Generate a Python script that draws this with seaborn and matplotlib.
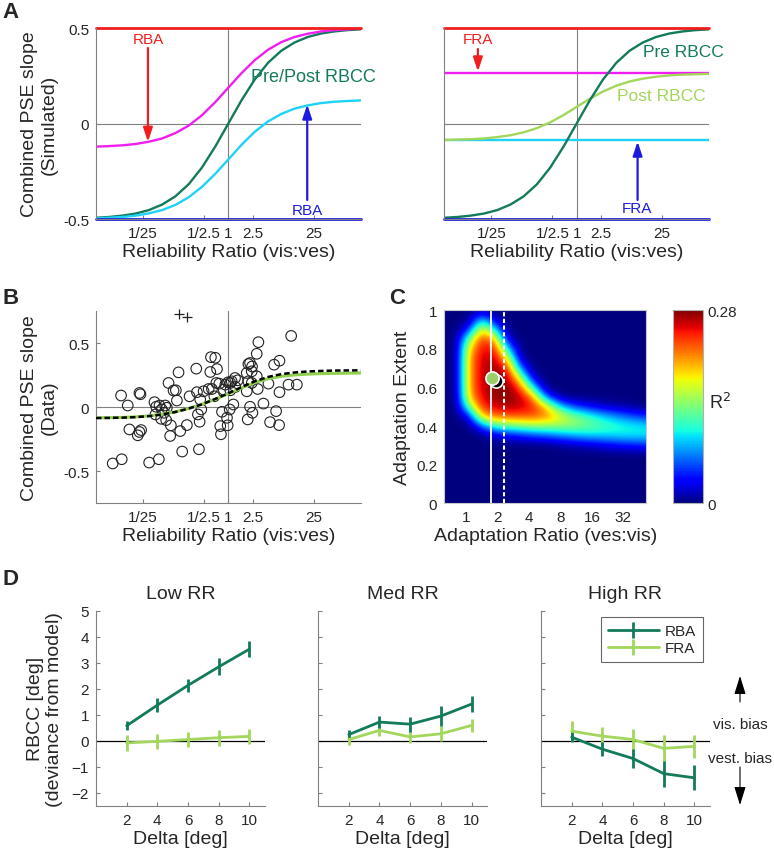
import numpy as np
import matplotlib; matplotlib.use('agg')
import matplotlib.pyplot as plt
import seaborn as sns


sns.set_theme(style='white')
plt.rcParams['font.family'] = ['Liberation Sans', 'DejaVu Sans']

RED = '#f01e1e'
MAGENTA = '#f01ef0'
CYAN = '#1ed2f8'
BLUE = '#1c1cdc'
DKGREEN = '#137a5c'
LTGREEN = '#a3d65c'
GRAY = '#808080'

# ---- A: simulated curves (ln of reliability ratio) ----
ln_rr = [-5.0, -4.5, -4.0, -3.5, -3.0, -2.5, -2.0, -1.5, -1.0, -0.5, 0.0,
         0.5, 1.0, 1.5, 2.0, 2.5, 3.0, 3.5, 4.0, 4.5, 5.0]
pre_rbcc = [-0.493, -0.489, -0.482, -0.471, -0.453, -0.424, -0.381, -0.318, -0.231, -0.122, 0.0,
            0.122, 0.231, 0.318, 0.381, 0.424, 0.453, 0.471, 0.482, 0.489, 0.493]
rba_vis = [-0.121, -0.118, -0.114, -0.107, -0.095, -0.078, -0.050, -0.011, 0.043, 0.111, 0.188,
           0.264, 0.332, 0.386, 0.426, 0.453, 0.470, 0.482, 0.489, 0.493, 0.496]
rba_ves = [-0.496, -0.493, -0.489, -0.482, -0.470, -0.453, -0.426, -0.386, -0.332, -0.264, -0.188,
           -0.111, -0.043, 0.011, 0.050, 0.078, 0.095, 0.107, 0.114, 0.118, 0.121]
fra_post = [-0.086, -0.084, -0.082, -0.078, -0.071, -0.061, -0.046, -0.024, 0.006, 0.044, 0.087,
            0.130, 0.168, 0.198, 0.220, 0.235, 0.245, 0.252, 0.256, 0.258, 0.260]
fra_vis_level = 0.265
fra_ves_level = -0.088

# ---- B: data ----
b_fit_green = [-0.083, -0.082, -0.080, -0.076, -0.068, -0.055, -0.036, -0.010, 0.022, 0.062, 0.104,
               0.150, 0.192, 0.222, 0.241, 0.252, 0.258, 0.262, 0.264, 0.266, 0.267]
b_fit_black = [-0.085, -0.084, -0.082, -0.078, -0.070, -0.057, -0.038, -0.011, 0.022, 0.064, 0.108,
               0.157, 0.202, 0.236, 0.258, 0.271, 0.279, 0.283, 0.286, 0.287, 0.288]
b_log10_rr = [-1.897, -1.749, -1.760, -1.650, -1.623, -1.458, -1.442, -1.486, -1.431, -1.458,
              -1.299, -1.140, -1.212, -1.184, -1.129, -1.195, -1.091, -1.036, -1.053, -1.009,
              -1.102, -1.020, -0.981, -0.954, -0.943, -0.899, -0.861, -0.817, -0.844, -0.789,
              -0.757, -0.680, -0.636, -0.526, -0.515, -0.482, -0.471, -0.499, -0.461, -0.444,
              -0.406, -0.323, -0.296, -0.285, -0.214, -0.186, -0.269, -0.230, -0.197, -0.121,
              -0.104, -0.077, -0.049, -0.022, -0.011, -0.005, 0.033, 0.022, -0.132, -0.148,
              0.033, 0.082, 0.110, 0.055, 0.154, 0.115, 0.302, 0.329, 0.356, 0.384,
              0.466, 0.329, 0.384, 0.302, 0.318, 0.356, 0.395, 0.466, 0.493, 0.482,
              0.576, 0.658, 0.685, 0.751, 0.839, 0.784, 0.833, 0.839, 0.987, 1.124,
              1.031, 0.389]
b_slope = [-0.440, -0.407, 0.091, 0.013, -0.174, 0.111, 0.101, -0.220, -0.179, -0.194,
           -0.433, -0.407, 0.039, 0.003, 0.013, -0.057, -0.018, 0.013, -0.044, -0.005,
           -0.091, -0.101, 0.189, -0.225, -0.142, 0.130, 0.132, 0.272, 0.052, -0.187,
           -0.347, -0.140, 0.085, 0.301, 0.117, -0.329, -0.114, -0.057, 0.060, -0.018,
           0.124, 0.142, 0.275, 0.391, 0.386, 0.298, 0.142, 0.085, 0.189, -0.212,
           -0.036, 0.137, 0.176, -0.083, -0.142, 0.194, 0.189, -0.018, -0.148, 0.184,
           0.132, 0.021, 0.228, 0.202, 0.210, 0.158, 0.267, 0.337, 0.345, 0.280,
           0.241, 0.202, 0.189, 0.124, -0.096, 0.003, -0.044, 0.417, 0.508, 0.142,
           0.028, 0.184, -0.117, 0.332, 0.363, -0.031, -0.140, 0.117, 0.176, 0.176,
           0.557, 0.318]
b_out_log10_rr = [-0.817, -0.680]
b_out_slope = [0.728, 0.702]

# ---- C: R^2 map (rows from extent 1.0 down to 0.0, columns log2 ratio) ----
c_log2_ratio = [-0.7, -0.3, 0.1, 0.5, 0.9, 1.3, 1.7, 2.1, 2.5, 2.9, 3.3, 3.7, 4.1, 4.5, 4.9, 5.3, 5.7]
c_extent = [1.0, 0.95, 0.9, 0.85, 0.8, 0.75, 0.7, 0.65, 0.6, 0.55, 0.5,
            0.45, 0.4, 0.35, 0.3, 0.25, 0.2, 0.15, 0.1, 0.05, 0.0]
c_r2 = [
    [0, 0, 0.00, 0.010, 0.000, 0.000, 0.000, 0, 0, 0, 0, 0, 0, 0, 0, 0, 0],
    [0, 0, 0.00, 0.100, 0.020, 0.000, 0.000, 0, 0, 0, 0, 0, 0, 0, 0, 0, 0],
    [0, 0, 0.04, 0.200, 0.100, 0.000, 0.000, 0, 0, 0, 0, 0, 0, 0, 0, 0, 0],
    [0, 0, 0.14, 0.245, 0.210, 0.020, 0.000, 0, 0, 0, 0, 0, 0, 0, 0, 0, 0],
    [0, 0, 0.19, 0.255, 0.250, 0.100, 0.000, 0, 0, 0, 0, 0, 0, 0, 0, 0, 0],
    [0, 0, 0.21, 0.260, 0.265, 0.190, 0.010, 0, 0, 0, 0, 0, 0, 0, 0, 0, 0],
    [0, 0, 0.21, 0.262, 0.275, 0.250, 0.070, 0.00, 0, 0, 0, 0, 0, 0, 0, 0, 0],
    [0, 0, 0.21, 0.262, 0.278, 0.272, 0.170, 0.02, 0, 0, 0, 0, 0, 0, 0, 0, 0],
    [0, 0, 0.21, 0.260, 0.278, 0.280, 0.240, 0.11, 0.00, 0, 0, 0, 0, 0, 0, 0, 0],
    [0, 0, 0.20, 0.255, 0.272, 0.280, 0.265, 0.22, 0.07, 0.01, 0, 0, 0, 0, 0, 0, 0],
    [0, 0, 0.14, 0.245, 0.258, 0.268, 0.262, 0.25, 0.20, 0.11, 0.06, 0.04, 0.025, 0.015, 0.01, 0.005, 0.0],
    [0, 0, 0.03, 0.200, 0.220, 0.230, 0.230, 0.23, 0.22, 0.19, 0.15, 0.13, 0.105, 0.085, 0.07, 0.055, 0.045],
    [0, 0, 0.00, 0.060, 0.120, 0.130, 0.140, 0.15, 0.15, 0.15, 0.15, 0.14, 0.13, 0.12, 0.11, 0.105, 0.10],
    [0, 0, 0.00, 0.000, 0.020, 0.030, 0.040, 0.05, 0.06, 0.07, 0.08, 0.09, 0.095, 0.095, 0.10, 0.10, 0.10],
    [0, 0, 0.00, 0.000, 0.000, 0.000, 0.000, 0.00, 0.00, 0.005, 0.01, 0.015, 0.02, 0.03, 0.035, 0.04, 0.045],
    [0] * 17, [0] * 17, [0] * 17, [0] * 17, [0] * 17, [0] * 17,
]
c_r2_max = 0.28
c_solid_log2 = 0.80
c_dashed_log2 = 1.21
c_best_green = (0.82, 0.647)
c_best_black = (0.955, 0.634)
c_ticks = [1, 2, 4, 8, 16, 32]

# ---- D: deviance from model ----
delta = [2, 4, 6, 8, 10]
low_rba = [0.58, 1.37, 2.13, 2.84, 3.52]
low_rba_err = [0.17, 0.26, 0.26, 0.33, 0.32]
low_fra = [-0.08, -0.02, 0.05, 0.12, 0.17]
low_fra_err = [0.30, 0.30, 0.27, 0.30, 0.30]
med_rba = [0.24, 0.72, 0.64, 0.95, 1.41]
med_rba_err = [0.17, 0.22, 0.29, 0.37, 0.31]
med_fra = [0.05, 0.40, 0.15, 0.27, 0.59]
med_fra_err = [0.20, 0.20, 0.22, 0.29, 0.25]
high_rba = [0.14, -0.32, -0.68, -1.26, -1.42]
high_rba_err = [0.20, 0.26, 0.36, 0.50, 0.48]
high_fra = [0.37, 0.18, 0.05, -0.29, -0.21]
high_fra_err = [0.38, 0.35, 0.42, 0.51, 0.44]

rr_ticks = [1 / 25, 1 / 2.5, 1, 2.5, 25]
rr_ticklabels = ['1/25', '1/2.5', '1', '2.5', '25']


def style_axis(ax):
    sns.despine(ax=ax)
    for s in ['left', 'bottom']:
        ax.spines[s].set_color(GRAY)
        ax.spines[s].set_linewidth(0.8)
    ax.tick_params(direction='in', length=3, width=0.8, color=GRAY,
                   labelsize=11, pad=5, left=True, bottom=True)


def arrow(ax, x, y0, y1, color):
    ax.annotate('', xy=(x, y1), xytext=(x, y0),
                arrowprops=dict(arrowstyle='-|>,head_length=0.6,head_width=0.2',
                                color=color, lw=1.6, mutation_scale=14,
                                shrinkA=0, shrinkB=0))


def rr_axis(ax):
    ax.set_xscale('log')
    ax.set_xlim(np.exp(-5), np.exp(5))
    ax.set_xticks(rr_ticks)
    ax.set_xticklabels(rr_ticklabels)
    ax.minorticks_off()
    ax.set_xlabel('Reliability Ratio (vis:ves)', fontsize=14, labelpad=2)


fig = plt.figure(figsize=(7.74, 8.53), dpi=100)
rr = np.exp(ln_rr)

# ---------- A left ----------
ax = fig.add_axes([0.124, 0.742, 0.342, 0.224])
style_axis(ax)
rr_axis(ax)
ax.axhline(0, color=GRAY, lw=0.8)
ax.axvline(1, color=GRAY, lw=0.8)
sns.lineplot(x=rr, y=pre_rbcc, ax=ax, color=DKGREEN, lw=1.7)
sns.lineplot(x=rr, y=rba_vis, ax=ax, color=MAGENTA, lw=1.7)
sns.lineplot(x=rr, y=rba_ves, ax=ax, color=CYAN, lw=1.7)
ax.axhline(0.5, color=RED, lw=2, clip_on=False)
ax.axhline(-0.5, color=BLUE, lw=2, clip_on=False)
ax.set_ylim(-0.5, 0.5)
ax.set_yticks([-0.5, 0, 0.5])
ax.set_yticklabels(['-0.5', '0', '0.5'])
ax.set_ylabel('Combined PSE slope\n(Simulated)', fontsize=14, labelpad=4)
ax.text(0.048, 0.444, 'RBA', color=RED, fontsize=11, ha='center', va='center')
arrow(ax, 0.048, 0.395, -0.096, RED)
ax.text(25, 0.245, 'Pre/Post RBCC', color=DKGREEN, fontsize=13, ha='center', va='center')
ax.text(20, -0.453, 'RBA', color=BLUE, fontsize=11, ha='center', va='center')
arrow(ax, 19.7, -0.40, 0.10, BLUE)

# ---------- A right ----------
ax = fig.add_axes([0.574, 0.742, 0.342, 0.224])
style_axis(ax)
rr_axis(ax)
ax.axhline(0, color=GRAY, lw=0.8)
ax.axvline(1, color=GRAY, lw=0.8)
ax.axhline(fra_vis_level, color=MAGENTA, lw=1.7)
ax.axhline(fra_ves_level, color=CYAN, lw=1.7)
sns.lineplot(x=rr, y=fra_post, ax=ax, color=LTGREEN, lw=1.7)
sns.lineplot(x=rr, y=pre_rbcc, ax=ax, color=DKGREEN, lw=1.7)
ax.axhline(0.5, color=RED, lw=2, clip_on=False)
ax.axhline(-0.5, color=BLUE, lw=2, clip_on=False)
ax.set_ylim(-0.5, 0.5)
ax.set_yticks([-0.5, 0, 0.5])
ax.set_yticklabels([])
ax.text(0.024, 0.444, 'FRA', color=RED, fontsize=11, ha='center', va='center')
arrow(ax, 0.024, 0.39, 0.272, RED)
ax.text(56, 0.376, 'Pre RBCC', color=DKGREEN, fontsize=12.5, ha='center', va='center')
ax.text(24.5, 0.145, 'Post RBCC', color=LTGREEN, fontsize=12.5, ha='center', va='center')
ax.text(9.8, -0.442, 'FRA', color=BLUE, fontsize=11, ha='center', va='center')
arrow(ax, 10, -0.40, -0.094, BLUE)

# ---------- B ----------
ax = fig.add_axes([0.124, 0.409, 0.342, 0.225])
style_axis(ax)
rr_axis(ax)
ax.axhline(0, color=GRAY, lw=0.8)
ax.axvline(1, color=GRAY, lw=0.8)
ax.scatter(np.power(10.0, b_log10_rr), b_slope, s=58, marker='o',
           facecolors='none', edgecolors='#222222', linewidths=0.8, zorder=3)
ax.scatter(np.power(10.0, b_out_log10_rr), b_out_slope, s=45, marker='+',
           color='#222222', linewidths=0.9, zorder=3, clip_on=False)
sns.lineplot(x=rr, y=b_fit_green, ax=ax, color='#92d050', lw=2.2, zorder=4)
sns.lineplot(x=rr, y=b_fit_black, ax=ax, color='black', lw=1.8,
             dashes=False, zorder=5).lines[-1].set_dashes([2.2, 1.2])
ax.set_ylim(-0.75, 0.75)
ax.set_yticks([-0.5, 0, 0.5])
ax.set_yticklabels(['-0.5', '0', '0.5'])
ax.set_ylabel('Combined PSE slope\n(Data)', fontsize=14, labelpad=4)

# ---------- C ----------
ax = fig.add_axes([0.574, 0.409, 0.261, 0.226])
step_x = c_log2_ratio[1] - c_log2_ratio[0]
step_y = c_extent[0] - c_extent[1]
im = ax.imshow(np.array(c_r2), cmap='jet', vmin=0, vmax=c_r2_max, aspect='auto',
               interpolation='bicubic', origin='upper',
               extent=[c_log2_ratio[0] - step_x / 2, c_log2_ratio[-1] + step_x / 2,
                       c_extent[-1] - step_y / 2, c_extent[0] + step_y / 2])
ax.axvline(c_solid_log2, color='white', lw=1.3)
ax.axvline(c_dashed_log2, color='white', lw=1.5, dashes=(2, 1.2))
ax.plot(*c_best_black, 'o', ms=9.5, mfc='black', mec='white', mew=1.2)
ax.plot(*c_best_green, 'o', ms=9.5, mfc='#9ccf6a', mec='white', mew=1.2)
ax.set_xlim(-0.7, 5.73)
ax.set_ylim(0, 1)
ax.set_xticks(np.log2(c_ticks))
ax.set_xticklabels([str(t) for t in c_ticks])
ax.set_yticks([0, 0.2, 0.4, 0.6, 0.8, 1])
ax.set_yticklabels(['0', '0.2', '0.4', '0.6', '0.8', '1'])
ax.tick_params(direction='in', length=0, labelsize=11, pad=5)
for s in ax.spines.values():
    s.set_color('#c8c8c8')
    s.set_linewidth(0.8)
ax.set_xlabel('Adaptation Ratio (ves:vis)', fontsize=14, labelpad=2)
ax.set_ylabel('Adaptation Extent', fontsize=14, labelpad=4)

cax = fig.add_axes([0.8695, 0.409, 0.0388, 0.226])
cb = fig.colorbar(im, cax=cax, ticks=[0, c_r2_max])
cb.ax.set_yticklabels(['0', '0.28'])
cb.ax.tick_params(length=0, labelsize=11, pad=3)
cb.outline.set_edgecolor('#b0b0b0')
cb.outline.set_linewidth(0.8)
fig.text(0.930, 0.528, 'R$^2$', fontsize=13, ha='center', va='center')

# ---------- D ----------
d_sets = [('Low RR', low_rba, low_rba_err, low_fra, low_fra_err, 0.124),
          ('Med RR', med_rba, med_rba_err, med_fra, med_fra_err, 0.411),
          ('High RR', high_rba, high_rba_err, high_fra, high_fra_err, 0.699)]
for i, (title, rba, rba_err, fra, fra_err, left) in enumerate(d_sets):
    ax = fig.add_axes([left, 0.054, 0.218, 0.229])
    style_axis(ax)
    ax.axhline(0, color='black', lw=0.9)
    ax.errorbar(delta, fra, yerr=fra_err, color=LTGREEN, lw=2, elinewidth=2,
                capsize=0, label='FRA')
    ax.errorbar(delta, rba, yerr=rba_err, color=DKGREEN, lw=2, elinewidth=2,
                capsize=0, label='RBA')
    ax.set_xlim(0, 11)
    ax.set_ylim(-2.5, 5)
    ax.set_xticks(delta)
    ax.set_yticks(range(-2, 6))
    ax.set_title(title, fontsize=14, pad=9)
    ax.set_xlabel('Delta [deg]', fontsize=14, labelpad=2)
    if i == 0:
        ax.set_ylabel('RBCC [deg]\n(deviance from model)', fontsize=14, labelpad=6)
    else:
        ax.set_yticklabels([])
    if i == 2:
        h, l = ax.get_legend_handles_labels()
        leg = ax.legend(h[::-1], l[::-1], loc='upper right', fontsize=11,
                        handlelength=3.3, frameon=True, fancybox=False,
                        borderaxespad=0.45, handletextpad=0.4, labelspacing=0.2,
                        borderpad=0.45)
        leg.get_frame().set_edgecolor('#404040')
        leg.get_frame().set_linewidth(0.8)

arr = dict(arrowstyle='-|>,head_length=0.8,head_width=0.25', color='black',
           lw=0.8, mutation_scale=14, shrinkA=0, shrinkB=0)
fig.add_artist(plt.Annotation('', xy=(740 / 774, 1 - 677 / 853), xytext=(740 / 774, 1 - 703 / 853),
                              xycoords='figure fraction', arrowprops=arr))
fig.add_artist(plt.Annotation('', xy=(740 / 774, 1 - 806 / 853), xytext=(740 / 774, 1 - 768 / 853),
                              xycoords='figure fraction', arrowprops=arr))
fig.text(740 / 774, 1 - 725 / 853, 'vis. bias', fontsize=11, ha='center', va='center')
fig.text(740 / 774, 1 - 759 / 853, 'vest. bias', fontsize=11, ha='center', va='center')

# panel letters
for letter, x, y in [('A', 0.003, 0.998), ('B', 0.003, 0.662), ('C', 0.503, 0.662), ('D', 0.003, 0.333)]:
    fig.text(x, y, letter, fontsize=16, weight='bold', ha='left', va='top')

fig.savefig('out.png', dpi=100)
